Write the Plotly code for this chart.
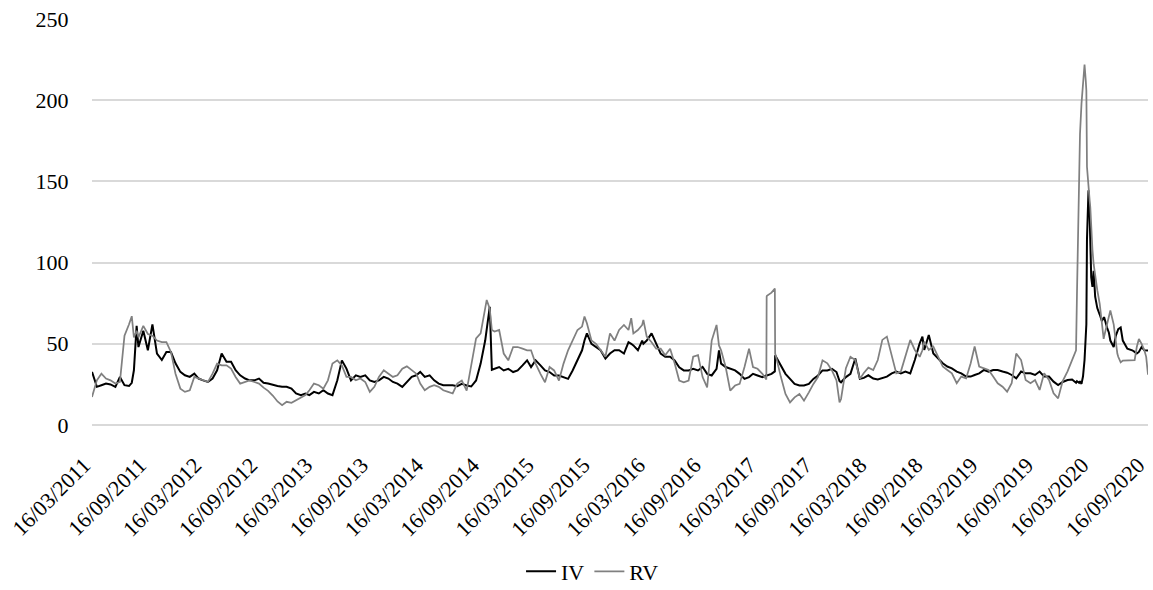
import pandas as pd
import plotly.graph_objects as go

# semi-monthly reading grid (1st and 16th of each month), 16/03/2011 .. 16/09/2020
grid_start = "2011-03-16"
grid_end = "2020-09-16"

iv_grid = [
    32.7, 23.5, 24.5, 25.5, 25, 23.5, 29.6, 24.5, 24, 33.7,
    48, 58, 46, 62, 44, 40, 45, 45, 38, 32.7,
    30.6, 29.6, 31.6, 28.6, 27.5, 26.5, 28.6, 33.7, 44, 39,
    39, 33.7, 30.6, 28.6, 27.5, 27.5, 28.6, 26, 25.5, 24.5,
    24, 23.5, 23.5, 22.4, 19.4, 18.4, 19.4, 18.4, 20.4, 19.4,
    21.4, 19.4, 18.4, 27.5, 39.8, 34.7, 27.5, 30.6, 29.6, 30.6,
    27.5, 26.5, 27.5, 29.6, 28.6, 26.5, 25.5, 23.5, 26.5, 29.6,
    30.6, 32.7, 29.6, 30.6, 27.5, 25.5, 24.5, 24.5, 24.5, 23.9,
    25.3, 24.3, 23.7, 27.4, 37.8, 52, 72.8, 34.6, 35.7, 33.6,
    34.6, 32.6, 33.6, 36.7, 39.8, 35.7, 39.8, 36.7, 33.6, 32.6,
    30.5, 30.5, 29.5, 28.4, 33.6, 39.8, 46, 56.4, 50, 48,
    46, 40.9, 44, 46, 46, 44, 51, 49, 46, 52,
    52, 56.4, 50, 44, 42, 42, 39.8, 35.5, 33.6, 33.6,
    34.6, 33.6, 35.7, 31.5, 30.5, 34.6, 37.8, 35.7, 34.6, 33.6,
    31.5, 28.4, 29.5, 31.5, 30.5, 29.5, 30.5, 31.5, 42, 35.7,
    31.5, 28.4, 25.3, 24.3, 24.3, 25.3, 28.4, 30.5, 33.6, 33.6,
    34.6, 32.6, 26.3, 29.5, 31.5, 40.9, 28.4, 29, 30.6, 28.6,
    28, 28.7, 29.8, 31.8, 32.9, 31.8, 32.9, 31.8, 40, 50.3,
    46.2, 55.4, 44, 41, 38, 36, 34.9, 32.9, 31.8, 29.8,
    29.8, 30.8, 31.8, 33.9, 32.9, 33.9, 33.9, 32.9, 32.2, 30.8,
    28.7, 32.9, 31.8, 31.8, 30.8, 32.9, 29.8, 29.8, 26.7, 24.6,
    26.5, 27.7, 28, 27, 25.3, 55, 108, 79, 68, 66,
    57, 48, 59, 52, 47, 46, 44, 48, 46,
]

rv_grid = [
    17.3, 27.5, 31.6, 28.6, 27.5, 25.5, 26.5, 55, 62, 54,
    54, 61, 56, 55, 52, 51, 51, 45, 31.6, 22.4,
    20.4, 21.4, 29.6, 28.6, 27.5, 26.5, 31.6, 37.8, 36.7, 36.7,
    34.7, 29.6, 25.5, 26.5, 27.5, 26.5, 25.5, 23, 21, 18,
    14.5, 12.2, 14.3, 13.7, 15.3, 17.3, 18.4, 21.4, 25.5, 24.5,
    22.4, 27.5, 37.8, 39.8, 36.7, 29.6, 29.6, 27.5, 28.6, 26.5,
    20.4, 23.5, 29.6, 33.7, 31.6, 29.6, 30.6, 34.7, 36.1, 33.7,
    31.6, 25.5, 21.4, 23.5, 24.5, 23.5, 21.4, 20.4, 19.4, 25.5,
    27.4, 21.2, 35.7, 53.3, 56.4, 74, 71.6, 57.5, 58.5, 44,
    39.8, 48, 48, 47, 46, 46, 37.8, 31.5, 26.3, 35.7,
    33.6, 27.4, 37.8, 46, 52, 58.5, 60.6, 62.7, 52, 50,
    46, 42, 56.4, 52, 58.5, 61.6, 58.5, 56.4, 58.5, 61.6,
    54.4, 51, 47, 47, 43, 47, 38, 27.4, 26.3, 27.4,
    42, 43, 29.5, 23.2, 52, 61.6, 46, 35.7, 21.2, 24.3,
    25.3, 35.7, 47, 35.7, 34.6, 31.5, 79.5, 81.5, 42, 29.5,
    19.1, 13.9, 17, 19.1, 15, 20.1, 25.3, 29.5, 39.8, 38,
    33.6, 27.4, 16, 35, 42, 40, 28.4, 32, 35.3, 33.8,
    40, 52.4, 54.4, 42, 31.8, 32.9, 42, 52.4, 46.2, 42,
    51.3, 46.2, 48.3, 42, 36, 33.9, 31.8, 25.7, 29.8, 28.7,
    38, 48.3, 36, 34.9, 33.9, 29.8, 25.7, 23.6, 20.5, 25.7,
    44, 40, 27.7, 25.7, 27.7, 21.6, 31.8, 27.7, 19.5, 16.4,
    27, 33, 40, 80, 198, 212, 134, 91, 74.6, 55,
    68, 62, 42, 39.7, 39.7, 40, 48, 50, 42,
]

# extra readings at sharp features
extra_dates = [
    "2011-07-25", "2011-08-10", "2014-10-06", "2014-10-23", "2015-08-24",
    "2016-01-25", "2016-03-05", "2016-11-09", "2017-04-14", "2017-04-15",
    "2017-05-12", "2017-05-13", "2017-12-11", "2018-09-10", "2020-01-29",
    "2020-02-08", "2020-02-11", "2020-02-21", "2020-02-26", "2020-03-03",
    "2020-03-05", "2020-03-10", "2020-03-14", "2020-03-19", "2020-03-23",
    "2020-03-27", "2020-04-08", "2020-04-23", "2020-04-29", "2020-05-10",
    "2020-05-21", "2020-06-08", "2020-06-13", "2020-06-24", "2020-08-09",
    "2020-08-23", "2020-09-10", "2020-09-22",
]
extra_iv = [
    26, 61, 60, 34, 52, 50, 50, 46, 30.5, 31,
    33, 43, 27, 54.4, 26, 26, 27, 30, 40, 62,
    114, 144.5, 128, 91, 85, 95, 72, 64, 66, 60,
    52, 55, 58, 60, 45, 45, 46, 45.8,
]
extra_rv = [
    67, 58, 77, 58.5, 66.8, 65.8, 64.7, 49, 28, 79,
    84, 44, 14, 46, 46, 144, 179, 212, 222, 206,
    159, 144, 138, 118, 108, 99, 83, 62, 53, 62,
    70.5, 50, 44, 38.6, 40, 53, 46, 31,
]

tick_dates = [
    "2011-03-16", "2011-09-16", "2012-03-16", "2012-09-16", "2013-03-16",
    "2013-09-16", "2014-03-16", "2014-09-16", "2015-03-16", "2015-09-16",
    "2016-03-16", "2016-09-16", "2017-03-16", "2017-09-16", "2018-03-16",
    "2018-09-16", "2019-03-16", "2019-09-16", "2020-03-16", "2020-09-16",
]
tick_labels = [
    "16/03/2011", "16/09/2011", "16/03/2012", "16/09/2012", "16/03/2013",
    "16/09/2013", "16/03/2014", "16/09/2014", "16/03/2015", "16/09/2015",
    "16/03/2016", "16/09/2016", "16/03/2017", "16/09/2017", "16/03/2018",
    "16/09/2018", "16/03/2019", "16/09/2019", "16/03/2020", "16/09/2020",
]

grid_dates = pd.date_range(grid_start, grid_end, freq="SMS-16")
n = min(len(grid_dates), len(iv_grid), len(rv_grid))
df = pd.DataFrame({
    "date": list(grid_dates[:n]) + list(pd.to_datetime(extra_dates)),
    "iv": iv_grid[:n] + extra_iv,
    "rv": rv_grid[:n] + extra_rv,
}).sort_values("date")

SERIF = "Liberation Serif, Times New Roman, Times, serif"

fig = go.Figure()
fig.add_trace(go.Scatter(x=df["date"], y=df["iv"], mode="lines", name="IV",
                         line=dict(color="#000000", width=2)))
fig.add_trace(go.Scatter(x=df["date"], y=df["rv"], mode="lines", name="RV",
                         line=dict(color="#808080", width=1.75)))

fig.update_layout(
    width=1153, height=590,
    margin=dict(l=92, r=5, t=18, b=165, autoexpand=False),
    paper_bgcolor="white", plot_bgcolor="white",
    font=dict(family=SERIF, size=22, color="#000000"),
    showlegend=True,
    legend=dict(orientation="h", x=0.474, xanchor="center", y=-0.36,
                yanchor="middle", font=dict(family=SERIF, size=22),
                bgcolor="rgba(0,0,0,0)"),
)
fig.update_xaxes(type="date", range=["2011-03-16", "2020-09-22"],
                 tickmode="array", tickvals=tick_dates, ticktext=tick_labels,
                 tickangle=-45, showgrid=False, zeroline=False, showline=False,
                 ticks="", ticklabelstandoff=22, ticklabelshift=-8,
                 ticklabeloverflow="allow", automargin=False,
                 tickfont=dict(family=SERIF, size=22))
fig.update_yaxes(range=[0, 250.6], tick0=0, dtick=50, showgrid=True,
                 gridcolor="#d9d9d9", gridwidth=2, zeroline=True,
                 zerolinecolor="#d9d9d9", zerolinewidth=2, showline=False,
                 ticks="outside", ticklen=18, tickcolor="rgba(0,0,0,0)",
                 automargin=False, tickfont=dict(family=SERIF, size=22))

fig.write_html("out.html")
